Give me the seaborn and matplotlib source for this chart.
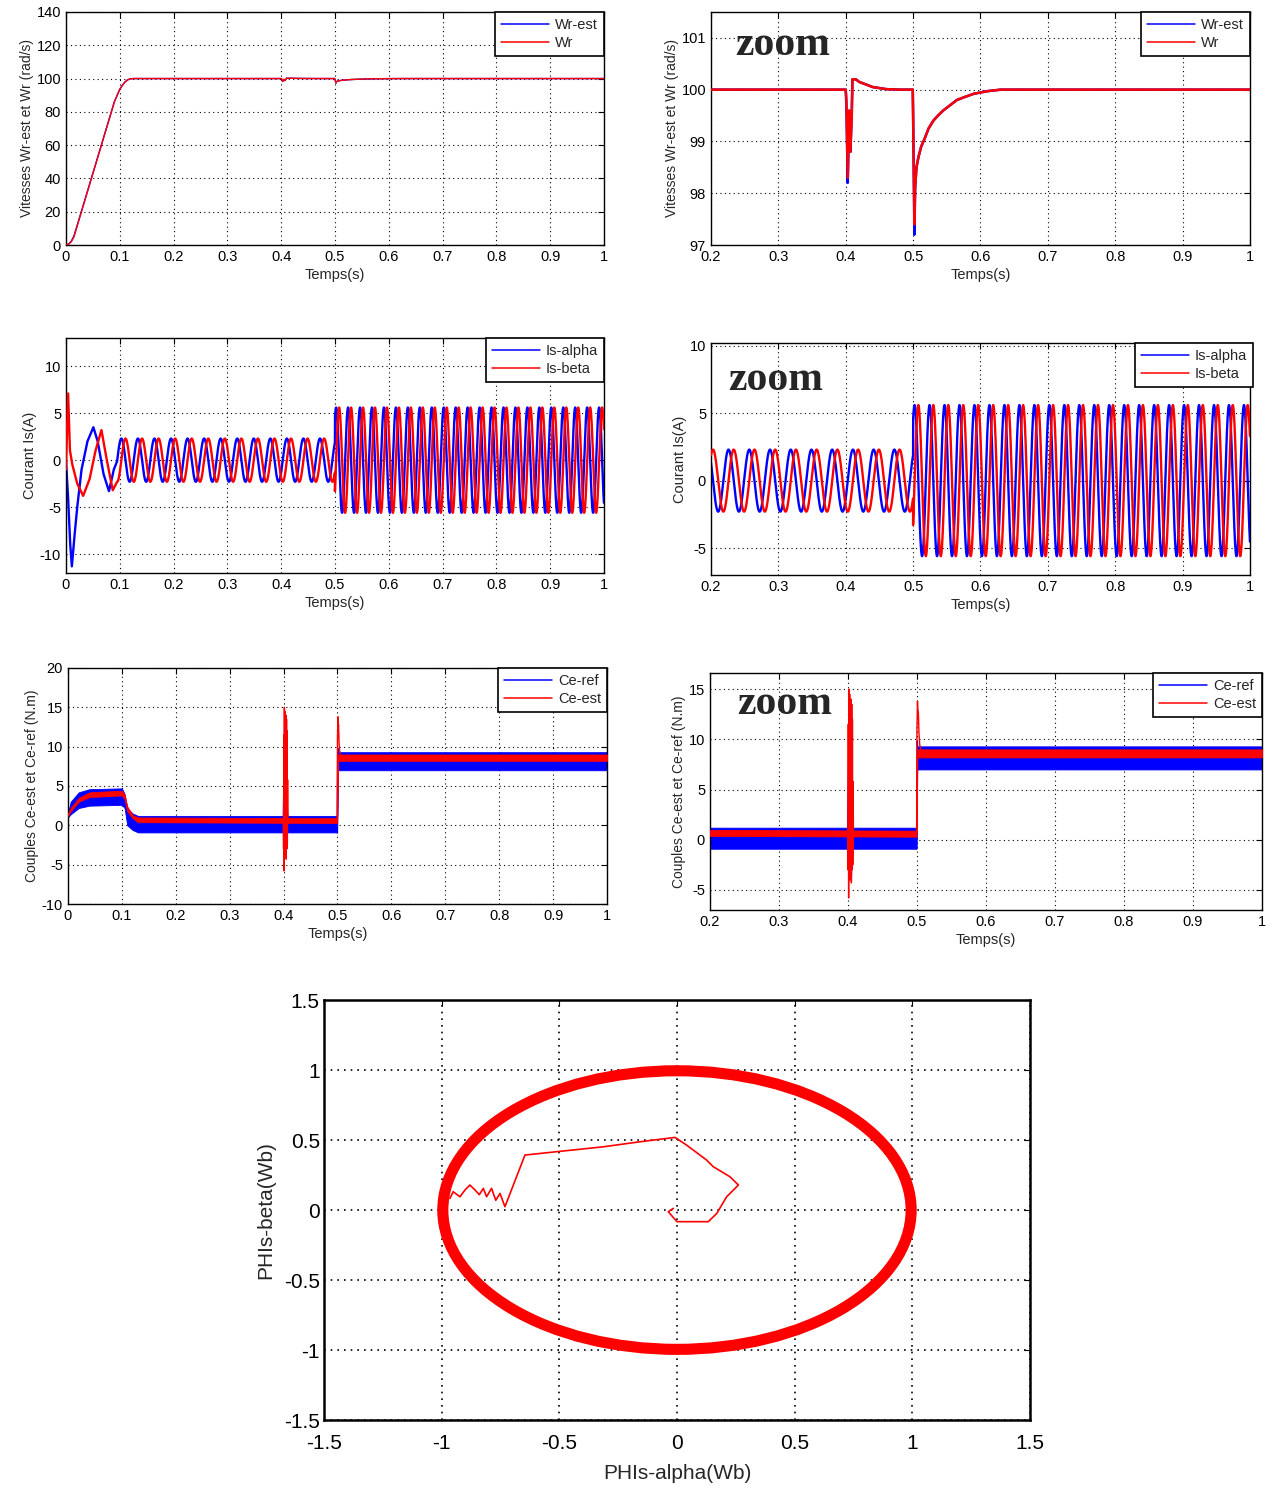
# DTC induction motor simulation results: speed, stator currents, torque, stator flux
import numpy as np
import matplotlib
matplotlib.use('Agg')
import matplotlib.pyplot as plt
import seaborn as sns
from matplotlib.patches import Ellipse
from matplotlib.ticker import FuncFormatter, MultipleLocator

# ---- speed (rad/s) ----
W_T = [0, 0.005, 0.01, 0.015, 0.09, 0.1, 0.105, 0.11, 0.115, 0.12, 0.125,
       0.4, 0.401, 0.403, 0.405, 0.407, 0.409, 0.41, 0.415, 0.42, 0.43, 0.44,
       0.45, 0.46, 0.48, 0.4995, 0.5, 0.502, 0.503, 0.505, 0.508, 0.512, 0.517,
       0.523, 0.53, 0.537, 0.545, 0.555, 0.565, 0.575, 0.59, 0.61, 0.63, 1.0]
W_R = [0, 0.5, 2, 5, 86, 93.5, 96, 98, 99.3, 99.8, 100,
       100, 99.8, 98.3, 99.6, 98.8, 99.5, 100.2, 100.2, 100.15, 100.1, 100.05,
       100.03, 100.01, 100, 100, 99.5, 97.4, 98.1, 98.5, 98.7, 98.9, 99.05,
       99.25, 99.4, 99.5, 99.6, 99.7, 99.8, 99.85, 99.92, 99.97, 100, 100]
W_EST = [0, 0.6, 2.3, 5.5, 86, 93.5, 96, 98, 99.3, 99.8, 100,
         100, 99.7, 98.2, 99.4, 98.8, 99.6, 100.2, 100.2, 100.15, 100.1, 100.05,
         100.03, 100.01, 100, 100, 99.6, 97.2, 98.1, 98.5, 98.7, 98.9, 99.05,
         99.25, 99.4, 99.5, 99.6, 99.7, 99.8, 99.85, 99.92, 99.97, 100, 100]

# ---- stator currents (A): start-up transient ----
IA_T0 = [0, 0.004, 0.008, 0.011, 0.016, 0.021, 0.029, 0.04, 0.051, 0.059, 0.07, 0.08, 0.089]
IA_V0 = [0, -4, -9, -11.3, -8, -5, -1, 2, 3.5, 2, -1.5, -3.3, -1]
IB_T0 = [0, 0.002, 0.004, 0.0075, 0.012, 0.021, 0.032, 0.044, 0.055, 0.066, 0.076, 0.087]
IB_V0 = [-1, 3, 7.1, 1, -0.5, -2.5, -3.8, -2, 1, 3.2, 0, -3.2]
# steady sinusoidal parts: start, end, amplitude, frequency (Hz), time of an Is-beta peak
I_SEG_START = [0.095, 0.5]
I_SEG_END = [0.5, 1.0]
I_AMP = [2.3, 5.6]
I_FREQ = [32.5, 45.0]
I_PEAK = [0.203, 0.530]

# ---- torque (N.m): band limits of the chattering signals ----
TQ_T = [0.0, 0.005, 0.02, 0.04, 0.1, 0.105, 0.11, 0.12, 0.13, 0.4995, 0.5005, 1.0]
REF_LO = [1.0, 1.4, 2.2, 2.5, 2.6, 2.2, 0.0, -0.6, -0.9, -0.9, 7.0, 7.0]
REF_HI = [1.6, 3.0, 4.2, 4.6, 4.7, 4.0, 2.2, 1.5, 1.2, 1.2, 9.3, 9.3]
EST_LO = [1.2, 1.8, 3.0, 3.6, 3.8, 3.3, 1.8, 0.9, 0.4, 0.3, 8.2, 8.2]
EST_HI = [1.5, 2.2, 3.5, 4.2, 4.4, 3.9, 2.4, 1.3, 1.0, 0.9, 9.0, 9.0]
# disturbances at 0.4 s and load step at 0.5 s
EST_OSC_T = [0.3995, 0.4, 0.4005, 0.401, 0.4015, 0.402, 0.4025, 0.403, 0.4035, 0.404,
             0.4045, 0.405, 0.4055, 0.406, 0.4065, 0.407, 0.4075, 0.408, 0.4085]
EST_OSC_V = [0.6, -3, 11.5, -5.8, 15, -3.2, 14.5, -4, 14, -3.5, 14, -4.3, 13.5, -3,
             12, -2.5, 5.8, 0.2, 0.6]
REF_OSC_T = [0.3995, 0.401, 0.403, 0.405, 0.4065, 0.408]
REF_OSC_V = [0.5, 7.5, -2, -3.8, 3, 0.5]
EST_JUMP_T = [0.4995, 0.5, 0.5008, 0.5015, 0.502, 0.503, 0.504, 0.506]
EST_JUMP_V = [0.6, 11, 13.8, 12.5, 12.8, 10.5, 9.5, 8.8]
REF_JUMP_T = [0.4995, 0.5, 0.5005, 0.501, 0.503]
REF_JUMP_V = [-0.9, 4, 9.8, 9.3, 8.5]

# ---- stator flux (Wb) ----
FLUX_RADIUS = 0.995
PHI_A = [-0.016, -0.037, 0.0, 0.133, 0.169, 0.211, 0.261, 0.225, 0.154, 0.126, 0.041,
         -0.008, -0.157, -0.313, -0.511, -0.646, -0.731, -0.752, -0.77, -0.788, -0.809,
         -0.823, -0.84, -0.858, -0.88, -0.901, -0.922, -0.951, -0.965]
PHI_B = [0.012, -0.012, -0.083, -0.083, -0.024, 0.095, 0.179, 0.238, 0.31, 0.357, 0.464,
         0.519, 0.488, 0.452, 0.417, 0.393, 0.024, 0.119, 0.07, 0.155, 0.095, 0.155,
         0.11, 0.143, 0.179, 0.143, 0.095, 0.131, 0.083]

BLUE = '#0000ff'
RED = '#ff0000'

sns.set_style('white')
plt.rcParams['font.family'] = ['Liberation Sans', 'DejaVu Sans']
plt.rcParams['xtick.direction'] = 'in'
plt.rcParams['ytick.direction'] = 'in'
plt.rcParams['xtick.top'] = True
plt.rcParams['ytick.right'] = True


def currents():
    ta, va = list(IA_T0), list(IA_V0)
    tb, vb = list(IB_T0), list(IB_V0)
    for a, b, amp, f, tp in zip(I_SEG_START, I_SEG_END, I_AMP, I_FREQ, I_PEAK):
        t = np.linspace(a, b, int((b - a) * 20000))
        ta += list(t)
        va += list(amp * np.cos(2 * np.pi * f * (t - tp + 0.25 / f)))
        tb += list(t)
        vb += list(amp * np.cos(2 * np.pi * f * (t - tp)))
    return ta, va, tb, vb


def style(ax, xlim, ylim, xstep, ystep, fs=10.5, grid_lw=0.8):
    ax.set_xlim(xlim)
    ax.set_ylim(ylim)
    ax.xaxis.set_major_locator(MultipleLocator(xstep))
    ax.yaxis.set_major_locator(MultipleLocator(ystep))
    fmt = FuncFormatter(lambda v, p: f'{v:g}')
    ax.xaxis.set_major_formatter(fmt)
    ax.yaxis.set_major_formatter(fmt)
    ax.tick_params(labelsize=fs, length=4, width=0.8, colors='black')
    ax.grid(True, linestyle=(0, (1, 3)), color='black', linewidth=grid_lw)
    for s in ax.spines.values():
        s.set_color('black')
        s.set_linewidth(1.0)


def legend(ax, anchor=(1.0, 1.0)):
    leg = ax.legend(loc='upper right', bbox_to_anchor=anchor, frameon=True, fancybox=False,
                    edgecolor='black', framealpha=1, borderaxespad=0, fontsize=10.5,
                    handlelength=3.3, handletextpad=0.4, labelspacing=0.3)
    leg.get_frame().set_linewidth(1.2)
    for h in leg.get_lines():
        h.set_linewidth(1.1)


def zoom_label(ax, x, y):
    ax.text(x, y, 'zoom', transform=ax.transAxes, ha='left', va='center',
            family='Liberation Serif', fontweight='bold', fontsize=30, zorder=6)


def lines(ax, x, y, color, lw, label=None, z=2):
    sns.lineplot(x=x, y=y, ax=ax, color=color, linewidth=lw, estimator=None,
                 sort=False, label=label, zorder=z)


def torque(ax):
    ax.fill_between(TQ_T, REF_LO, REF_HI, color=BLUE, linewidth=0.6, edgecolor=BLUE, zorder=2)
    lines(ax, REF_OSC_T, REF_OSC_V, BLUE, 1.0, z=2)
    lines(ax, REF_JUMP_T, REF_JUMP_V, BLUE, 1.0, 'Ce-ref', z=2)
    ax.fill_between(TQ_T, EST_LO, EST_HI, color=RED, linewidth=0.6, edgecolor=RED, zorder=3)
    lines(ax, EST_OSC_T, EST_OSC_V, RED, 1.0, z=3)
    lines(ax, EST_JUMP_T, EST_JUMP_V, RED, 1.0, 'Ce-est', z=3)


fig = plt.figure(figsize=(12.73, 14.94), dpi=100)

# speed
ax1 = fig.add_axes([0.0518, 0.836, 0.4226, 0.156])
lines(ax1, W_T, W_EST, BLUE, 1.0, 'Wr-est')
lines(ax1, W_T, W_R, RED, 1.0, 'Wr', z=3)
style(ax1, (0, 1), (0, 140), 0.1, 20)
ax1.set_xlabel('Temps(s)', fontsize=10.5, labelpad=3)
ax1.set_ylabel('Vitesses Wr-est et Wr (rad/s)', fontsize=10, labelpad=2)
legend(ax1)

ax2 = fig.add_axes([0.5585, 0.836, 0.4234, 0.156])
lines(ax2, W_T, W_EST, BLUE, 1.8, 'Wr-est')
lines(ax2, W_T, W_R, RED, 1.8, 'Wr', z=3)
style(ax2, (0.2, 1), (97, 101.5), 0.1, 1)
ax2.set_xlabel('Temps(s)', fontsize=10.5, labelpad=3)
ax2.set_ylabel('Vitesses Wr-est et Wr (rad/s)', fontsize=10, labelpad=2)
legend(ax2)
zoom_label(ax2, 0.045, 0.86)

# currents
ta, va, tb, vb = currents()
ax3 = fig.add_axes([0.0518, 0.6165, 0.4226, 0.1573])
lines(ax3, ta, va, BLUE, 1.7, 'Is-alpha')
lines(ax3, tb, vb, RED, 1.7, 'Is-beta', z=3)
style(ax3, (0, 1), (-12, 13), 0.1, 5)
ax3.set_xlabel('Temps(s)', fontsize=10.5, labelpad=3)
ax3.set_ylabel('Courant Is(A)', fontsize=10.5, labelpad=2)
legend(ax3)

ax4 = fig.add_axes([0.5585, 0.6151, 0.4234, 0.1553])
lines(ax4, ta, va, BLUE, 1.7, 'Is-alpha')
lines(ax4, tb, vb, RED, 1.7, 'Is-beta', z=3)
style(ax4, (0.2, 1), (-7, 10.2), 0.1, 5)
ax4.set_xlabel('Temps(s)', fontsize=10.5, labelpad=3)
ax4.set_ylabel('Courant Is(A)', fontsize=10.5, labelpad=2)
legend(ax4, (1.006, 1.0))
zoom_label(ax4, 0.032, 0.84)

# torque
ax5 = fig.add_axes([0.0534, 0.3949, 0.4234, 0.158])
torque(ax5)
style(ax5, (0, 1), (-10, 20), 0.1, 5)
ax5.set_xlabel('Temps(s)', fontsize=10.5, labelpad=3)
ax5.set_ylabel('Couples Ce-est et Ce-ref (N.m)', fontsize=10, labelpad=2)
legend(ax5)

ax6 = fig.add_axes([0.5577, 0.3909, 0.4336, 0.1586])
torque(ax6)
style(ax6, (0.2, 1), (-7, 16.6), 0.1, 5)
ax6.set_xlabel('Temps(s)', fontsize=10.5, labelpad=3)
ax6.set_ylabel('Couples Ce-est et Ce-ref (N.m)', fontsize=10, labelpad=2)
legend(ax6)
zoom_label(ax6, 0.05, 0.87)

# stator flux trajectory
ax7 = fig.add_axes([0.2545, 0.0495, 0.5546, 0.2811])
ax7.add_patch(Ellipse((0, 0), 2 * FLUX_RADIUS, 2 * FLUX_RADIUS, fill=False,
                      edgecolor=RED, linewidth=8, zorder=3))
lines(ax7, PHI_A, PHI_B, RED, 1.2, z=3)
style(ax7, (-1.5, 1.5), (-1.5, 1.5), 0.5, 0.5, fs=15, grid_lw=1.2)
ax7.tick_params(axis='x', pad=10)
ax7.tick_params(axis='y', pad=3)
for s in ax7.spines.values():
    s.set_linewidth(1.8)
ax7.set_xlabel('PHIs-alpha(Wb)', fontsize=15, labelpad=8)
ax7.set_ylabel('PHIs-beta(Wb)', fontsize=15, labelpad=6)

fig.savefig('out.png', dpi=100)
